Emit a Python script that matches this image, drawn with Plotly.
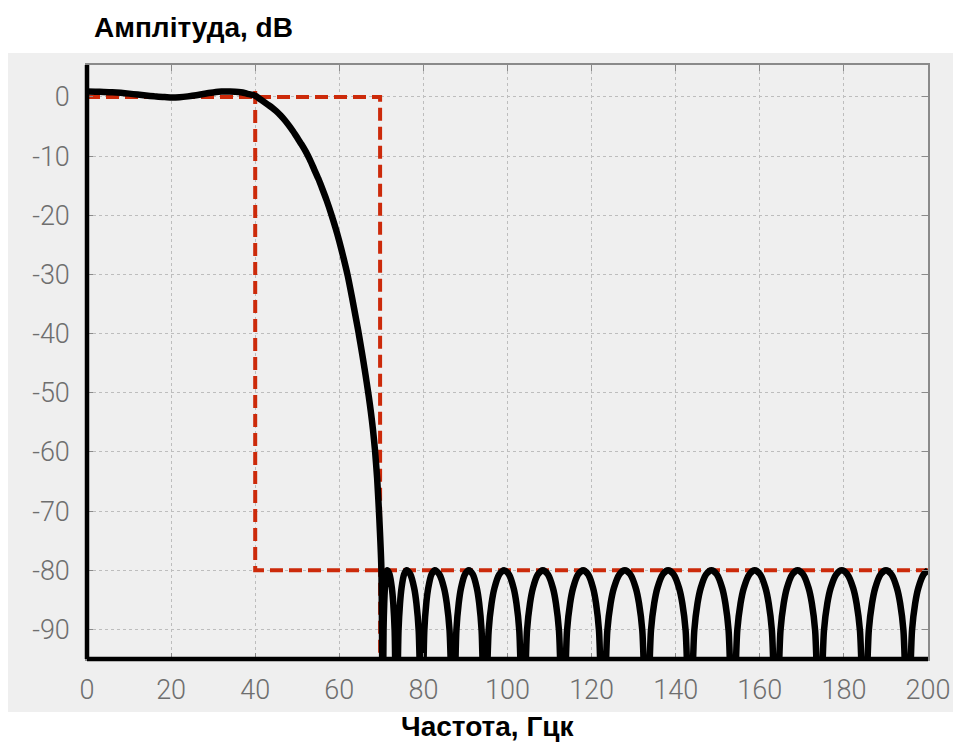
import plotly.graph_objects as go

# Passband + transition band of the filter response (Hz, dB)
freq_main = [0, 2, 4, 6, 8, 10, 12, 14, 16, 18, 20, 22, 24, 26, 28, 30, 32, 34, 36,
             37, 38, 39, 40, 41, 42, 43, 44, 45, 46, 47, 48, 49, 50, 51, 52, 53, 54,
             55, 56, 57, 58, 59, 60, 61, 62, 63, 64, 64.5, 65, 65.5, 66, 66.5, 67,
             67.5, 68, 68.5, 69, 69.5, 70.0, 70.3]
amp_main = [0.9, 0.88, 0.85, 0.8, 0.7, 0.56, 0.4, 0.24, 0.1, 0.0, -0.1, -0.05, 0.1,
            0.3, 0.55, 0.75, 0.9, 0.9, 0.85,
            0.75, 0.55, 0.4, 0.2, -0.3, -0.8, -1.3, -1.8, -2.4, -3.1, -3.9, -4.8,
            -5.8, -6.9, -8.0, -9.2, -10.6, -12.2, -13.8, -15.6, -17.5, -19.6, -21.9,
            -24.4, -27.2, -30.2, -33.8, -37.6, -39.5, -41.6, -43.7, -45.9, -48.2,
            -50.6, -53.2, -56.2, -59.8, -64.5, -71.0, -79.5, -110]

# Stopband lobes (Hz, dB) - nulls drop below the visible range
freq_stop = [70.52, 70.685, 70.85, 71.125, 71.4, 71.95, 72.5, 72.83, 73.16, 73.6,
             74.08, 74.44, 74.8, 75.4, 76.0, 76.9, 77.8, 78.34, 78.88, 79.6,
             80.22, 80.685, 81.15, 81.925, 82.7, 83.8, 84.9, 85.56, 86.22, 87.1,
             87.84, 88.395, 88.95, 89.875, 90.8, 91.75, 92.7, 93.27, 93.84, 94.6,
             95.52, 96.21, 96.9, 98.05, 99.2, 100.325, 101.45, 102.125, 102.8, 103.7,
             104.64, 105.345, 106.05, 107.225, 108.4, 109.6, 110.8, 111.52, 112.24, 113.2,
             114.16, 114.88, 115.6, 116.8, 118.0, 119.175, 120.35, 121.055, 121.76, 122.7,
             123.74, 124.52, 125.3, 126.6, 127.9, 129.2, 130.5, 131.28, 132.06, 133.1,
             134.12, 134.885, 135.65, 136.925, 138.2, 139.5, 140.8, 141.58, 142.36, 143.4,
             144.42, 145.185, 145.95, 147.225, 148.5, 149.775, 151.05, 151.815, 152.58, 153.6,
             154.64, 155.42, 156.2, 157.5, 158.8, 160.075, 161.35, 162.115, 162.88, 163.9,
             164.92, 165.685, 166.45, 167.725, 169.0, 170.3, 171.6, 172.38, 173.16, 174.2,
             175.26, 176.055, 176.85, 178.175, 179.5, 180.85, 182.2, 183.01, 183.82, 184.9,
             185.92, 186.685, 187.45, 188.725, 190.0, 191.3, 192.6, 193.38, 194.16, 195.2,
             196.2, 196.95, 197.7, 198.95, 200.0]
amp_stop = [-90.2, -85.6, -83.0, -80.7, -80.0, -80.7, -83.0, -85.6, -90.2, -110,
            -90.2, -85.6, -83.0, -80.7, -80.0, -80.7, -83.0, -85.6, -90.2, -110,
            -90.2, -85.6, -83.0, -80.7, -80.0, -80.7, -83.0, -85.6, -90.2, -110,
            -90.2, -85.6, -83.0, -80.7, -80.0, -80.7, -83.0, -85.6, -90.2, -110,
            -90.2, -85.6, -83.0, -80.7, -80.0, -80.7, -83.0, -85.6, -90.2, -110,
            -90.2, -85.6, -83.0, -80.7, -80.0, -80.7, -83.0, -85.6, -90.2, -110,
            -90.2, -85.6, -83.0, -80.7, -80.0, -80.7, -83.0, -85.6, -90.2, -110,
            -90.2, -85.6, -83.0, -80.7, -80.0, -80.7, -83.0, -85.6, -90.2, -110,
            -90.2, -85.6, -83.0, -80.7, -80.0, -80.7, -83.0, -85.6, -90.2, -110,
            -90.2, -85.6, -83.0, -80.7, -80.0, -80.7, -83.0, -85.6, -90.2, -110,
            -90.2, -85.6, -83.0, -80.7, -80.0, -80.7, -83.0, -85.6, -90.2, -110,
            -90.2, -85.6, -83.0, -80.7, -80.0, -80.7, -83.0, -85.6, -90.2, -110,
            -90.2, -85.6, -83.0, -80.7, -80.0, -80.7, -83.0, -85.6, -90.2, -110,
            -90.2, -85.6, -83.0, -80.7, -80.0, -80.7, -83.0, -85.6, -90.2, -110,
            -90.2, -85.6, -83.0, -80.7, -80.0]

# Specification mask (red dashed)
mask_a_x = [0, 69.7, 69.7]
mask_a_y = [0, 0, -110]
mask_b_x = [40, 40, 200]
mask_b_y = [1, -80, -80]

x_ticks = [0, 20, 40, 60, 80, 100, 120, 140, 160, 180, 200]
y_ticks = [0, -10, -20, -30, -40, -50, -60, -70, -80, -90]

RED = "#cc2a0a"
GRAY_BG = "#efefef"

fig = go.Figure()
fig.add_trace(go.Scatter(x=mask_a_x, y=mask_a_y, mode="lines",
                         line=dict(color=RED, width=4, dash="13px,6px"),
                         showlegend=False, hoverinfo="skip"))
fig.add_trace(go.Scatter(x=mask_b_x, y=mask_b_y, mode="lines",
                         line=dict(color=RED, width=4, dash="13px,6px"),
                         showlegend=False, hoverinfo="skip"))
fig.add_trace(go.Scatter(x=freq_main, y=amp_main, mode="lines",
                         line=dict(color="black", width=6.5, shape="spline", smoothing=0.6,
                                   simplify=False),
                         showlegend=False))
fig.add_trace(go.Scatter(x=freq_main[-1:] + freq_stop, y=amp_main[-1:] + amp_stop, mode="lines",
                         line=dict(color="black", width=6.5, shape="spline", smoothing=0.8,
                                   simplify=False),
                         showlegend=False))

tick_font = dict(family="Roboto, Liberation Sans, sans-serif", size=27, color="#6e6e6e", weight=300)

fig.update_layout(
    width=953, height=734,
    margin=dict(l=79, r=33, t=57, b=83),
    paper_bgcolor="white",
    plot_bgcolor=GRAY_BG,
    xaxis=dict(range=[0, 200], tickvals=x_ticks, ticktext=[str(v) for v in x_ticks],
               showgrid=True, gridcolor="#bdbdbd", griddash="dot", gridwidth=1,
               zeroline=False, showline=True, linecolor="#8a8a8a", linewidth=1.5,
               mirror="ticks", ticks="inside", ticklen=6, tickcolor="#8a8a8a",
               tickfont=tick_font, ticklabelstandoff=6),
    yaxis=dict(range=[-95, 5.4], tickvals=y_ticks, ticktext=[str(v) for v in y_ticks],
               showgrid=True, gridcolor="#bdbdbd", griddash="dot", gridwidth=1,
               zeroline=False, showline=True, linecolor="#8a8a8a", linewidth=1.5,
               mirror="ticks", ticks="inside", ticklen=6, tickcolor="#8a8a8a",
               tickfont=tick_font, ticklabelstandoff=10),
    shapes=[
        dict(type="rect", xref="paper", yref="paper", x0=-0.096, x1=1.05, y0=-0.0892, y1=1.0202,
             fillcolor=GRAY_BG, line=dict(width=0), layer="below"),
        dict(type="line", xref="paper", yref="paper", x0=0, x1=0, y0=0, y1=1,
             line=dict(color="black", width=4.5), layer="above"),
        dict(type="line", xref="paper", yref="paper", x0=0, x1=1, y0=0, y1=0,
             line=dict(color="black", width=4.5), layer="above"),
    ],
    annotations=[
        dict(text="<b>Амплітуда, dB</b>", xref="paper", yref="paper", x=0.006, y=1.0623,
             xanchor="left", yanchor="middle", showarrow=False,
             font=dict(family="Liberation Sans, Arial, sans-serif", size=28, color="black")),
        dict(text="<b>Частота, Гцк</b>", xref="paper", yref="paper", x=0.4767, y=-0.113,
             xanchor="center", yanchor="middle", showarrow=False,
             font=dict(family="Liberation Sans, Arial, sans-serif", size=28, color="black")),
    ],
)

fig.write_html("out.html")
